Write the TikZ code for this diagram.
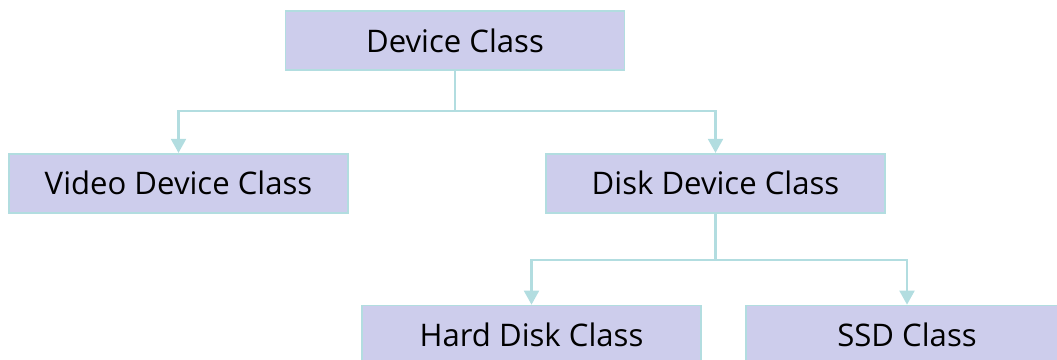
\documentclass[tikz,border=0pt]{standalone}
\usepackage{fontspec}
\setmainfont{Open Sans}
\usetikzlibrary{arrows.meta,positioning}

\definecolor{boxfill}{RGB}{205,205,236}
\definecolor{boxline}{RGB}{178,221,224}

\tikzset{
  classbox/.style={draw=boxline, line width=1pt, fill=boxfill, minimum width=6.78cm,
    minimum height=1.18cm, inner sep=0pt, font=\fontsize{17.7}{20}\selectfont},
  link/.style={draw=boxline, line width=1.2pt, -{Triangle[width=0.3cm,length=0.28cm]}}
}

\begin{document}
\begin{tikzpicture}
        \useasboundingbox (0,0) rectangle (21.14,-7.2);
        \node[classbox] (device) at (9.1,-0.81) {Device Class};
        \node[classbox, below = 1.64cm of device, xshift=-5.53cm] (video) {Video Device Class};
        \node[classbox, below = 1.64cm of device, xshift=5.21cm] (disk) {Disk Device Class};
        \node[classbox, below = 1.82cm of disk, xshift=-3.68cm] (harddisk) {Hard Disk Class};
        \node[classbox, below = 1.82cm of disk, xshift=3.83cm, minimum width=6.44cm] (ssd) {SSD Class};
        \coordinate (devicesplit) at ([yshift=-0.8cm]device.south);
        \coordinate (disksplit) at ([yshift=-0.92cm]disk.south);
        \draw [boxline, line width=1.2pt] (device) -- (devicesplit);
        \draw [link] (devicesplit) -| (video);
        \draw [link] (devicesplit) -| (disk);
        \draw [boxline, line width=1.2pt] (disk) -- (disksplit);
        \draw [link] (disksplit) -| (harddisk);
        \draw [link] (disksplit) -| (ssd);
      \end{tikzpicture}
\end{document}
